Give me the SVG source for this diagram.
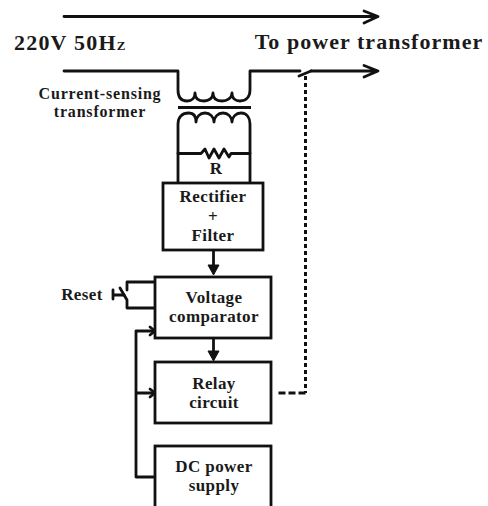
<svg xmlns="http://www.w3.org/2000/svg" width="488" height="506" viewBox="0 0 488 506">
<style>
text{font-family:"Liberation Serif","Times New Roman",serif;font-weight:bold;fill:#1a1a1a;text-anchor:middle}
.t{font-size:17px;letter-spacing:.4px}
.s{font-size:16px;letter-spacing:.8px}
.b{font-size:22px;letter-spacing:1.05px}
.w{fill:none;stroke:#111;stroke-width:2.800;stroke-linejoin:round;stroke-linecap:round}
.box{fill:#fff;stroke:#111;stroke-width:2.800}
.d{fill:none;stroke:#111;stroke-width:3}
</style>
<rect width="488" height="506" fill="#fff"/>
<g id="connectors">
<path class="w" d="M64 16.500H377M364 11L378 16.500L364 23"/>
<path class="w" d="M64 71H178V90C178 98 182 101 187 101C192 101 195 98 195 93C195 99 199 101 204 101C209 101 213 98 213 93C213 99 217 101 222 101C227 101 232 98 232 93C232 99 236 101 240 101C246 101 250 97 250 90V71H300"/>
<path class="w" d="M311 71H377M364 65.500L378 71L364 77"/>
<path class="w" d="M299 76L311 71"/>
<path class="d" d="M178 107.500H251"/>
<path class="w" d="M178 183V124C178 117 182 113 189 113C194 113 196 117 196 122C196 117 200 113 205 113C210 113 214 117 214 122C214 117 218 113 223 113C228 113 232 117 232 122C232 117 236 113 241 113C247 113 250 118 250 124V183"/>
<path class="w" d="M178 153.500H201L205 149L209 158L214 149L219 158L224 149L229 157L231 153.500H250"/>
<path class="d" d="M305.500 76V393" stroke-dasharray="4 3"/>
<path class="d" d="M305.500 393H276" stroke-dasharray="7 3"/>
<path class="w" d="M213.500 251V266"/>
<path d="M208 265H219L213.500 275Z" fill="#111" stroke="#111"/>
<path class="w" d="M213.500 339V352"/>
<path d="M208 351H219L213.500 361Z" fill="#111" stroke="#111"/>
<path class="w" d="M155 282H127V290"/>
<path class="w" d="M155 308H127V300L120 288"/>
<path class="w" d="M113 295H124M113 290V299"/>
<path class="w" d="M155 477H136V331H154M136 393H154"/>
<path class="w" d="M150 327L155 331L150 335M150 389L155 393L150 397"/>
</g>
<g id="label-220v"><text class="b" x="14" y="50" style="text-anchor:start;letter-spacing:1.2px">220V 50H<tspan font-size="13">Z</tspan></text></g>
<g id="label-to-power"><text class="b" x="369" y="49">To power transformer</text></g>
<g id="label-cst"><text class="s" x="100" y="99">Current-sensing</text><text class="s" x="100" y="117">transformer</text></g>
<g id="label-r"><text class="t" x="216" y="174">R</text></g>
<g id="rectifier"><rect class="box" x="163" y="183" width="100" height="67"/><text class="t" x="213" y="202">Rectifier</text><text class="t" x="213" y="222">+</text><text class="t" x="213" y="241">Filter</text></g>
<g id="reset"><text class="t" x="82" y="300">Reset</text></g>
<g id="comparator"><rect class="box" x="155" y="277" width="116" height="61"/><text class="t" x="214" y="303">Voltage</text><text class="t" x="214" y="322">comparator</text></g>
<g id="relay"><rect class="box" x="155" y="362" width="116" height="61"/><text class="t" x="214" y="389">Relay</text><text class="t" x="214" y="408">circuit</text></g>
<g id="dc"><rect class="box" x="155" y="446" width="116" height="64"/><text class="t" x="214" y="472">DC power</text><text class="t" x="214" y="491">supply</text></g>
</svg>
